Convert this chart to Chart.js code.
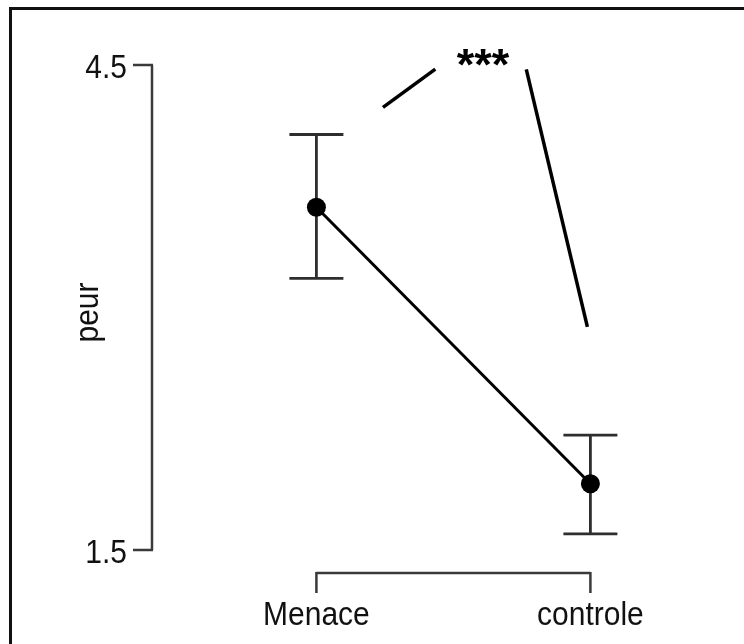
<!DOCTYPE html>
<html>
<head>
<meta charset="utf-8">
<script src="https://cdn.jsdelivr.net/npm/chart.js@4"></script>
<style>
    html, body { margin: 0; padding: 0; background: #fff; }
    #wrap { position: relative; width: 744px; height: 644px; overflow: hidden; }
    #cadre { position: absolute; left: 9px; top: 7px; width: 800px; height: 700px;
             border-top: 3px solid #111; border-left: 3px solid #111; }
    canvas { position: absolute; left: 0; top: 0; }
</style>
</head>
<body>
<div id="wrap">
    <div id="cadre"></div>
    <canvas id="grafico" width="744" height="644"></canvas>
</div>
<script>
// données
const categories = ['Menace', 'controle']
const moyennes = [3.62, 1.91]
const erreurBas = [3.18, 1.60]
const erreurHaut = [4.07, 2.21]
const yTicks = [1.5, 4.5]
const yTitre = 'peur'

// annotation de significativité (coordonnées en unités des axes)
const sigSegmentA = [[1.243, 4.238], [1.434, 4.475]]
const sigSegmentB = [[1.766, 4.473], [1.989, 2.880]]
const sigTexte = '***'
const sigPosition = [1.608, 4.53]

const police = '"Liberation Sans", Arial, sans-serif'
const etirement = 1.12   // le texte de la figure est un peu étiré en hauteur

// texte étiré verticalement autour de sa ligne de base
function texteEtire(ctx, txt, x, y) {
    ctx.save()
    ctx.translate(x, y)
    ctx.scale(1, etirement)
    ctx.fillText(txt, 0, 0)
    ctx.restore()
}

const axesR = {
    id: 'axesR',
    beforeDatasetsDraw(chart) {
        const { ctx, scales } = chart
        const x = scales.x, y = scales.y
        ctx.save()
        // barres d'erreur
        ctx.strokeStyle = '#2e2e2e'
        ctx.lineWidth = 2.8
        categories.forEach((c, i) => {
            const px = x.getPixelForValue(i + 1)
            const hi = y.getPixelForValue(erreurHaut[i])
            const lo = y.getPixelForValue(erreurBas[i])
            ctx.beginPath()
            ctx.moveTo(px, hi); ctx.lineTo(px, lo)
            ctx.moveTo(px - 27, hi); ctx.lineTo(px + 27, hi)
            ctx.moveTo(px - 27, lo); ctx.lineTo(px + 27, lo)
            ctx.stroke()
        })
        ctx.restore()
    },
    afterDraw(chart) {
        const { ctx, chartArea, scales } = chart
        const x = scales.x, y = scales.y
        ctx.save()
        ctx.strokeStyle = '#3a3a3a'
        ctx.lineWidth = 2.5
        ctx.lineCap = 'butt'

        // axe y façon R
        const ax = chartArea.left
        const yHaut = y.getPixelForValue(yTicks[yTicks.length - 1])
        const yBas = y.getPixelForValue(yTicks[0])
        ctx.beginPath()
        ctx.moveTo(ax, yHaut); ctx.lineTo(ax, yBas)
        yTicks.forEach(t => {
            const py = y.getPixelForValue(t)
            ctx.moveTo(ax + 1, py); ctx.lineTo(ax - 19, py)
        })
        ctx.stroke()

        ctx.fillStyle = '#111'
        ctx.font = '30px ' + police
        ctx.textAlign = 'right'
        ctx.textBaseline = 'alphabetic'
        yTicks.forEach(t => {
            texteEtire(ctx, t.toFixed(1), ax - 25, y.getPixelForValue(t) + 12.5)
        })

        // axe x façon R
        const ligneX = chartArea.bottom + 23
        const x1 = x.getPixelForValue(1)
        const x2 = x.getPixelForValue(categories.length)
        ctx.beginPath()
        ctx.moveTo(x1, ligneX); ctx.lineTo(x2, ligneX)
        categories.forEach((c, i) => {
            const px = x.getPixelForValue(i + 1)
            ctx.moveTo(px, ligneX - 1); ctx.lineTo(px, ligneX + 20)
        })
        ctx.stroke()

        ctx.textAlign = 'center'
        categories.forEach((c, i) => {
            texteEtire(ctx, c, x.getPixelForValue(i + 1), ligneX + 52)
        })

        // titre de l'axe y
        ctx.save()
        ctx.translate(ax - 54, (yHaut + yBas) / 2 + 5)
        ctx.rotate(-Math.PI / 2)
        ctx.scale(1, etirement)
        ctx.textAlign = 'center'
        ctx.fillText(yTitre, 0, 0)
        ctx.restore()

        // étoiles
        const taille = 45
        ctx.fillStyle = '#000'
        ctx.font = 'bold ' + taille + 'px ' + police
        ctx.textAlign = 'center'
        ctx.fillText(sigTexte, x.getPixelForValue(sigPosition[0]), y.getPixelForValue(sigPosition[1]) + 0.43 * taille)
        ctx.restore()
    }
}

const ctx = document.getElementById('grafico').getContext('2d')
new Chart(ctx, {
    type: 'line',
    data: {
        datasets: [
            {
                data: moyennes.map((v, i) => ({ x: i + 1, y: v })),
                borderColor: '#000',
                borderWidth: 3,
                pointRadius: 9.5,
                pointBackgroundColor: '#000',
                pointBorderColor: '#000',
                pointBorderWidth: 0,
                tension: 0,
            },
            {
                data: sigSegmentA.map(p => ({ x: p[0], y: p[1] })),
                borderColor: '#000',
                borderWidth: 3.5,
                pointRadius: 0,
                clip: false,
            },
            {
                data: sigSegmentB.map(p => ({ x: p[0], y: p[1] })),
                borderColor: '#000',
                borderWidth: 3.5,
                pointRadius: 0,
                clip: false,
            },
        ]
    },
    options: {
        responsive: false,
        animation: false,
        layout: { padding: { left: 152, right: 44, top: 65, bottom: 94 } },
        plugins: { legend: { display: false }, tooltip: { enabled: false } },
        scales: {
            x: { type: 'linear', min: 0.4, max: 2.4, display: false },
            y: { type: 'linear', min: 1.5, max: 4.5, display: false }
        }
    },
    plugins: [axesR]
})
</script>
</body>
</html>
